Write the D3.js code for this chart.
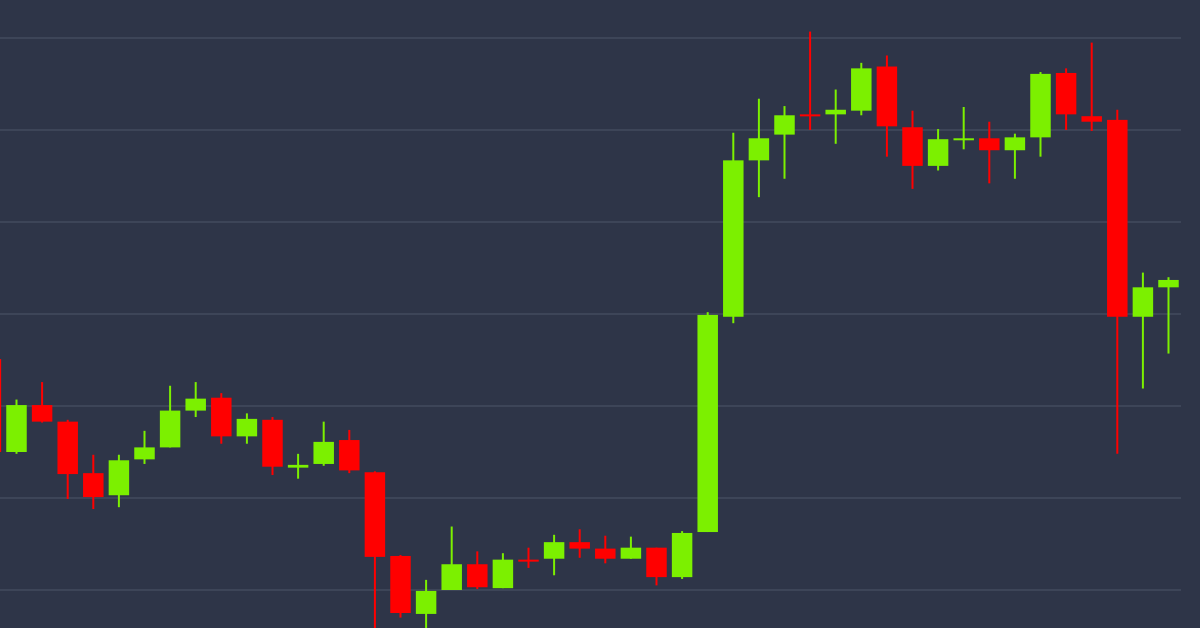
<!DOCTYPE html>
<html>
<head>
<meta charset="utf-8">
<script src="https://cdn.jsdelivr.net/npm/d3@7"></script>
<style>
	html, body { margin: 0; padding: 0; background: #2e3548; overflow: hidden; }
	svg { display: block; }
</style>
</head>
<body>
<svg id="chart" width="1200" height="628"></svg>
<script>
// price levels marked by the horizontal grid lines
const gridTicks = [6300, 6400, 6500, 6600, 6700, 6800, 6900];

// one entry per candle, left to right (first one is cut off by the left edge)
const opens  = [6551, 6450, 6501, 6483, 6427, 6403, 6442, 6455, 6495, 6509, 6467, 6485, 6433, 6437, 6463, 6428,
	6337, 6274, 6300, 6328, 6302, 6333, 6334, 6352, 6345, 6334, 6346, 6314, 6363, 6597, 6767, 6795,
	6817, 6817, 6821, 6869, 6803, 6761, 6790, 6791, 6778, 6792, 6862, 6815, 6811, 6597, 6629];
const highs  = [6553, 6507, 6526, 6485, 6447, 6447, 6473, 6522, 6526, 6514, 6492, 6488, 6448, 6483, 6474, 6429,
	6338, 6311, 6369, 6342, 6340, 6346, 6360, 6366, 6359, 6358, 6346, 6364, 6602, 6797, 6834, 6826,
	6907, 6844, 6873, 6881, 6821, 6801, 6825, 6809, 6796, 6863, 6867, 6895, 6822, 6645, 6640];
const lows   = [6448, 6448, 6482, 6399, 6388, 6390, 6437, 6455, 6488, 6459, 6459, 6425, 6421, 6435, 6427, 6240,
	6270, 6240, 6300, 6301, 6302, 6324, 6316, 6335, 6329, 6334, 6305, 6312, 6363, 6590, 6727, 6747,
	6800, 6785, 6816, 6771, 6736, 6756, 6779, 6742, 6747, 6771, 6800, 6799, 6448, 6519, 6557];
const closes = [6450, 6501, 6483, 6426, 6401, 6441, 6455, 6495, 6508, 6467, 6486, 6434, 6436, 6461, 6430, 6336,
	6275, 6299, 6328, 6303, 6333, 6332, 6352, 6345, 6334, 6346, 6314, 6362, 6599, 6767, 6791, 6816,
	6816, 6822, 6867, 6804, 6761, 6790, 6791, 6778, 6792, 6861, 6817, 6809, 6597, 6629, 6637];

const width = 1200, height = 628;
const upColor = "#7cf000", downColor = "#ff0000";

const candles = opens.map((o, i) => ({ i: i, open: o, high: highs[i], low: lows[i], close: closes[i] }));

const svg = d3.select("#chart");

const x = d3.scaleBand()
	.domain(candles.map(d => d.i))
	.range([-21.9, 1181.3])
	.paddingInner(0.2)
	.paddingOuter(0.1);

const y = d3.scaleLinear()
	.domain([6300, 6900])
	.range([590, 38]);

svg.append("rect")
	.attr("width", width)
	.attr("height", height)
	.attr("fill", "#2e3548");

// grid lines
svg.append("g")
	.attr("class", "grid")
	.selectAll("line")
	.data(gridTicks)
	.join("line")
	.attr("x1", 0)
	.attr("x2", 1181)
	.attr("y1", d => y(d))
	.attr("y2", d => y(d))
	.attr("stroke", "#3d4558")
	.attr("stroke-width", 2);

const g = svg.append("g").attr("class", "candles");

const candle = g.selectAll("g")
	.data(candles)
	.join("g")
	.attr("fill", d => d.close >= d.open ? upColor : downColor)
	.attr("stroke", d => d.close >= d.open ? upColor : downColor);

// wicks
candle.append("line")
	.attr("x1", d => x(d.i) + x.bandwidth() / 2)
	.attr("x2", d => x(d.i) + x.bandwidth() / 2)
	.attr("y1", d => y(d.high))
	.attr("y2", d => y(d.low))
	.attr("stroke-width", 2);

// bodies
candle.append("rect")
	.attr("x", d => x(d.i))
	.attr("width", x.bandwidth())
	.attr("y", d => y(Math.max(d.open, d.close)))
	.attr("height", d => Math.max(2, Math.abs(y(d.open) - y(d.close))))
	.attr("stroke-width", 0);
</script>
</body>
</html>
